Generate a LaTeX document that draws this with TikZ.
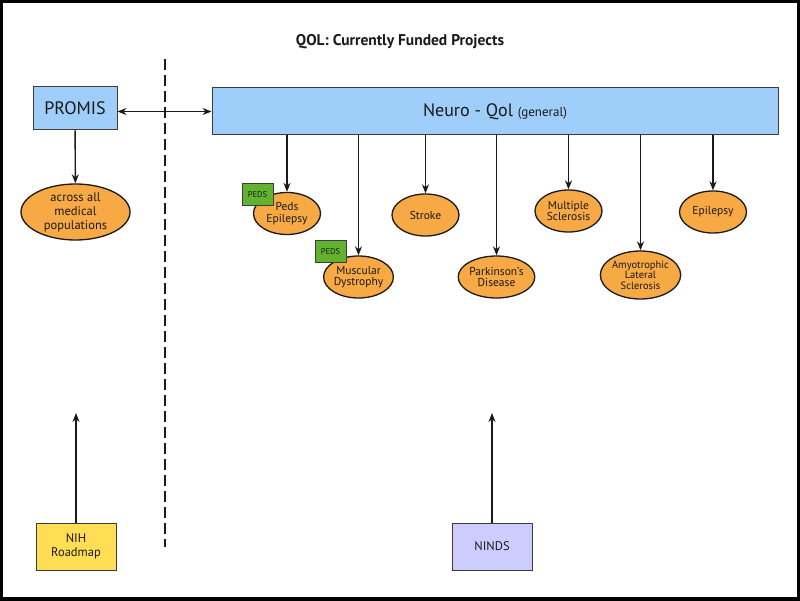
\documentclass[tikz,border=0pt]{standalone}
\usepackage{fontspec}
\setmainfont{PT Sans}
\usetikzlibrary{arrows.meta,positioning,shapes.geometric}
\definecolor{ink}{HTML}{1A1A1A}
\definecolor{qolblue}{HTML}{9ECEF9}
\definecolor{qolorange}{HTML}{F6A944}
\definecolor{pedsgreen}{HTML}{63B22F}
\definecolor{nihyellow}{HTML}{FFDD55}
\definecolor{nindsblue}{HTML}{CCCCFF}

\begin{document}
\begin{tikzpicture}[x=1pt,y=-1pt,>={Stealth[length=9pt,width=7pt]},
  bx/.style={draw=ink!85,line width=1pt,inner sep=0pt,align=center,text=ink},
  ov/.style={ellipse,draw=ink,line width=1.3pt,fill=qolorange,minimum width=67pt,minimum height=42pt,
             inner sep=0pt,align=center,text=ink,font=\fontsize{11.5}{11.5}\selectfont},
  pedsbox/.style={bx,fill=pedsgreen,minimum width=31pt,minimum height=22pt,font=\fontsize{8.5}{9}\selectfont},
  ln/.style={line width=1.4pt,draw=ink}]
  % frame
  \fill[black] (0,0) rectangle (800,601);
  \fill[white] (3,3) rectangle (797,597);
  \node[font=\bfseries\fontsize{15.5}{15.5}\selectfont,text=ink] (title) at (400,42) {QOL: Currently Funded Projects};
  % funding sides
  \node[bx,fill=qolblue,minimum width=84pt,minimum height=43pt,font=\fontsize{18}{18}\selectfont] (promis) at (75,108.5) {PROMIS};
  \node[bx,fill=qolblue,minimum width=566pt,minimum height=47pt] (nq) at (495,111.5)
    {\fontsize{18}{18}\selectfont Neuro - Qol \fontsize{13}{13}\selectfont(general)};
  \draw[ln,<->] (promis.east |- nq.west) -- (nq.west);
  \coordinate (dtop) at (165,59);
  \coordinate (dbot) at (165,547);
  \draw[ln,dash pattern=on 11pt off 5pt] (dtop) -- (dbot);
  % projects
  \node[ov,minimum width=109pt,minimum height=56pt,font=\fontsize{12.5}{14}\selectfont] (pop) at (75.5,212) {across all\\medical\\populations};
  \node[ov] (pepi) at (287,213.5) {Peds\\Epilepsy};
  \node[ov] (md) at (358.5,277) {Muscular\\Dystrophy};
  \node[ov] (stroke) at (425.5,215) {Stroke};
  \node[ov] (park) at (496.5,277) {Parkinson's\\Disease};
  \node[ov] (ms) at (568.5,211) {Multiple\\Sclerosis};
  \node[ov,minimum width=73pt,minimum height=48pt,font=\fontsize{10.5}{10.5}\selectfont] (als) at (640.5,275) {Amyotrophic\\Lateral\\Sclerosis};
  \node[ov] (epi) at (713,212) {Epilepsy};
  \node[pedsbox] (peds1) at (257.5,195) {PEDS};
  \node[pedsbox] (peds2) at (330.5,252) {PEDS};
  \draw[ln,->] (promis) -- (pop);
  \foreach \e in {pepi,md,stroke,park,ms,als,epi}{\draw[ln,->] (\e.north |- nq.south) -- (\e.north);}
  % sponsors
  \node[bx,fill=nihyellow,minimum width=80pt,minimum height=47pt,font=\fontsize{12.5}{14}\selectfont] (nih) at (76,546.5) {NIH\\Roadmap};
  \node[bx,fill=nindsblue,minimum width=80pt,minimum height=47pt,font=\fontsize{12.5}{14}\selectfont] (ninds) at (492,546.5) {NINDS};
  \coordinate (nihtop) at (76,413);
  \coordinate (nindstop) at (492,413);
  \draw[ln,->] (nih) -- (nihtop);
  \draw[ln,->] (ninds) -- (nindstop);
\end{tikzpicture}
\end{document}
